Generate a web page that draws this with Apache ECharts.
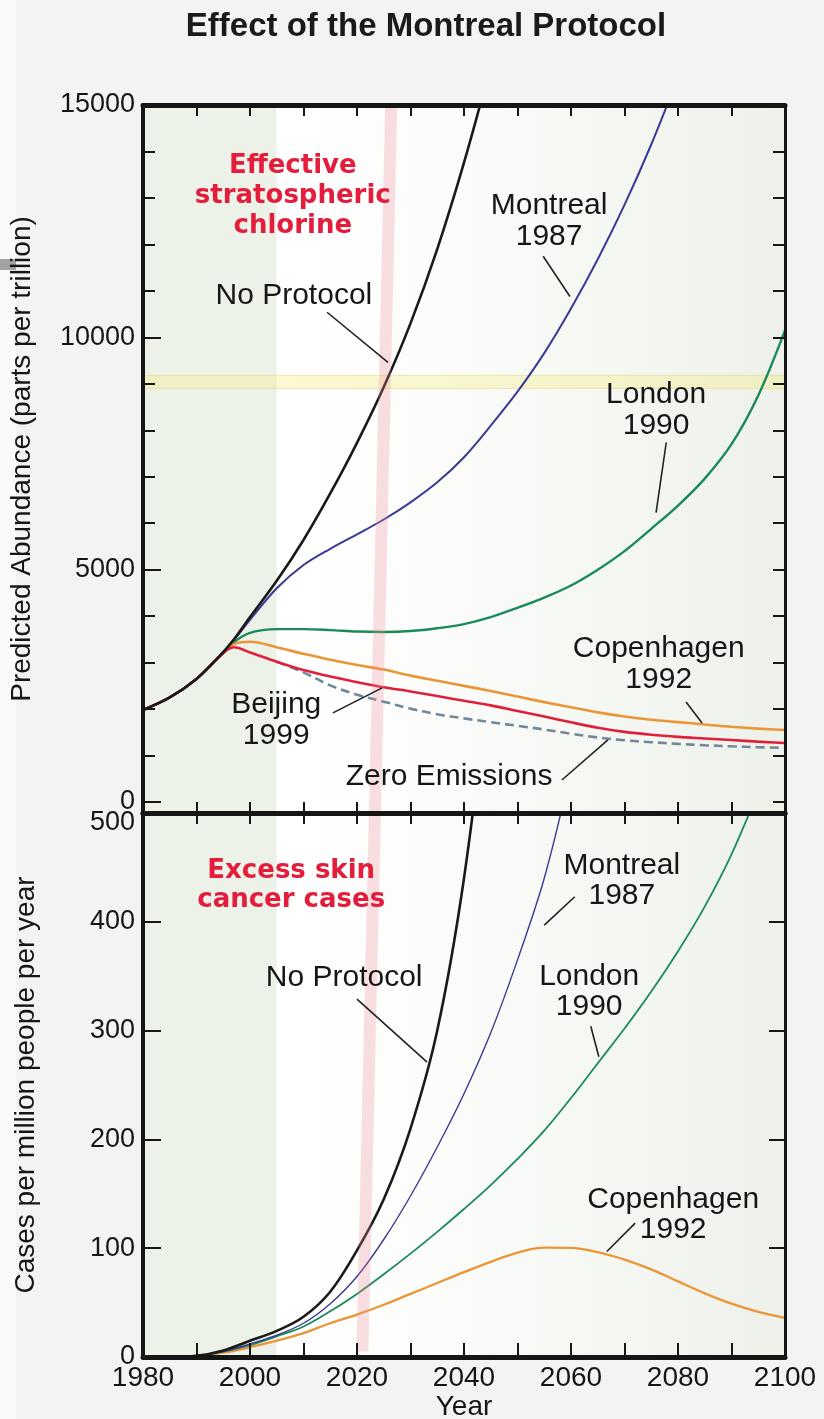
<!DOCTYPE html>
<html>
<head>
<meta charset="utf-8">
<title>Effect of the Montreal Protocol</title>
<script src="https://cdn.jsdelivr.net/npm/echarts@6/dist/echarts.min.js"></script>
<style>
  html, body { margin: 0; padding: 0; background: #f3f3f3; }
  #chart { width: 824px; height: 1419px; }
</style>
</head>
<body>
<div id="chart"></div>
<script>
// ---------- Effective stratospheric chlorine (parts per trillion) ----------
const chlYears = [1980, 1985, 1990, 1994, 1997, 2000, 2005, 2010, 2015, 2020, 2025, 2030, 2035, 2040,
                  2045, 2050, 2055, 2060, 2065, 2070, 2075, 2080, 2085, 2090, 2095, 2100];
const chlNoProtocol = [1980, 2250, 2650, 3100, 3500, 3980, 4760, 5640, 6640, 7730, 8930, 10300, 11900, 13760,
                       15850, null, null, null, null, null, null, null, null, null, null, null];
const chlMontreal = [1980, 2250, 2650, 3100, 3490, 3920, 4600, 5100, 5450, 5760, 6080, 6450, 6880, 7420,
                     8100, 8830, 9660, 10620, 11680, 12850, 14150, 15600, null, null, null, null];
const chlLondon = [1980, 2250, 2650, 3100, 3440, 3640, 3720, 3720, 3700, 3670, 3660, 3680, 3740, 3830,
                   3980, 4180, 4400, 4660, 5000, 5400, 5880, 6380, 6960, 7700, 8750, 10150];
const chlCopenhagen = [1980, 2250, 2650, 3100, 3400, 3450, 3330, 3190, 3060, 2950, 2850, 2720, 2610, 2500,
                       2390, 2270, 2150, 2040, 1930, 1840, 1770, 1720, 1668, 1620, 1580, 1550];
const chlBeijing = [1980, 2250, 2650, 3100, 3330, 3220, 3020, 2840, 2700, 2580, 2470, 2380, 2280, 2180,
                    2080, 1960, 1840, 1715, 1600, 1510, 1448, 1402, 1368, 1334, 1300, 1270];
const chlZeroEmissions = [null, null, null, null, null, null, 3020, 2790, 2510, 2310, 2160, 2010, 1890, 1800,
                          1720, 1640, 1560, 1470, 1390, 1330, 1288, 1252, 1222, 1199, 1180, 1165];

// ---------- Excess skin cancer cases (per million people per year) ----------
const caseYears = [1980, 1985, 1990, 1995, 2000, 2005, 2010, 2015, 2020, 2025, 2030, 2035, 2040,
                   2045, 2050, 2055, 2060, 2065, 2070, 2075, 2080, 2085, 2090, 2095, 2100];
const casesNoProtocol = [0, 0, 1, 6, 15, 24, 37, 60, 98, 145, 210, 300, 440,
                         640, null, null, null, null, null, null, null, null, null, null, null];
const casesMontreal = [0, 0, 1, 5, 12, 20, 31, 49, 74, 108, 148, 193, 242,
                       298, 365, 440, 540, null, null, null, null, null, null, null, null];
const casesLondon = [0, 0, 1, 5, 11, 19, 28, 42, 58, 76, 95, 115, 136,
                     158, 182, 208, 238, 270, 302, 336, 373, 414, 462, 520, null];
const casesCopenhagen = [0, 0, 1, 4, 9, 15, 22, 31, 39, 48, 58, 68, 78,
                         87.5, 96, 100.5, 100.3, 96.3, 89.5, 80.5, 69.5, 58.5, 49, 41.5, 36];

// ---------- Axis ticks ----------
const chlTickValues = [0, 1000, 2000, 3000, 4000, 5000, 6000, 7000, 8000, 9000, 10000,
                       11000, 12000, 13000, 14000, 15000];
const chlLabelValues = [0, 5000, 10000, 15000];
const chlMajorTicks = [0, 5000, 10000];

// ---------- Highlight bands ----------
const chlHighlightBand = [8900, 9180];                      // horizontal band, ppt
const yearMarkerTop = [[2026.4, 15000], [2023.35, -236]];   // slanted marker, upper panel
const yearMarkerBottom = [[2023.35, 500], [2021.0, 5]];     // slanted marker, lower panel

// ---------- Annotations: [year, value, text] and leader lines ----------
const chlNotes = [
  [2008.2, 10904, 'No Protocol'],
  [2055.9, 12500, 'Montreal\n1987'],
  [2075.9, 8426, 'London\n1990'],
  [2076.4, 2974, 'Copenhagen\n1992'],
  [2004.9, 1767, 'Beijing\n1999'],
  [2037.2, 539, 'Zero Emissions']
];
const chlLeaders = [
  [[2014.4, 10540], [2025.8, 9460]],
  [[2054.8, 11745], [2059.8, 10880]],
  [[2077.8, 7737], [2075.9, 6228]],
  [[2081.5, 2155], [2084.5, 1702]],
  [[2015.5, 1918], [2024.7, 2457]],
  [[2058.3, 474], [2066.9, 1336]]
];
const caseNotes = [
  [2017.6, 349, 'No Protocol'],
  [2069.5, 438, 'Montreal\n1987'],
  [2063.4, 336, 'London\n1990'],
  [2079.1, 131, 'Copenhagen\n1992']
];
const caseLeaders = [
  [[2020.0, 329], [2033.1, 271]],
  [[2060.7, 423], [2055.0, 397]],
  [[2063.7, 304], [2065.2, 276]],
  [[2072.0, 123], [2066.7, 97]]
];
const chlPanelTitle = [2008.0, 13040, 'Effective\nstratospheric\nchlorine'];
const casePanelTitle = [2007.7, 433, 'Excess skin\ncancer cases'];

// ---------- Styling ----------
const FONT = '"Liberation Sans", Arial, Helvetica, sans-serif';
const BOLD_FONT = '"DejaVu Sans", "Liberation Sans", sans-serif';
const INK = '#161616';
const TEXT = '#161616';
const RED_TEXT = '#e31d3b';
const C_BLACK = '#1a1a1a';
const C_BLUE = '#3a3a94';
const C_GREEN = '#1b8a5b';
const C_ORANGE = '#ea9637';
const C_RED = '#e0203a';
const C_ZERO = '#71879a';
const AXIS_Z = 10;

function pairs(xs, ys) {
  const out = [];
  xs.forEach((x, i) => { if (ys[i] !== null && ys[i] !== undefined) out.push([x, ys[i]]); });
  return out;
}

function lineAxis(w) {
  return { show: true, onZero: false, lineStyle: { color: INK, width: w } };
}

function xAxisFor(grid, position, extra) {
  return Object.assign({
    type: 'value', gridIndex: grid, position: position, z: AXIS_Z,
    min: 1980, max: 2100, interval: 10,
    axisLine: lineAxis(5),
    axisTick: { show: true, inside: true, length: 11, lineStyle: { color: INK, width: 2 } },
    axisLabel: { show: false },
    splitLine: { show: false }
  }, extra || {});
}

function curve(name, xs, ys, color, width, xi, yi, extra) {
  return Object.assign({
    name: name, type: 'line', xAxisIndex: xi, yAxisIndex: yi,
    data: pairs(xs, ys), showSymbol: false, smooth: 0.35,
    clip: true, silent: true, z: 3,
    lineStyle: { color: color, width: width }
  }, extra || {});
}

function notes(list, xi, yi, style) {
  return {
    type: 'scatter', xAxisIndex: xi, yAxisIndex: yi, symbolSize: 0, silent: true, z: 6,
    itemStyle: { opacity: 1 },
    data: list.map(n => ({ value: [n[0], n[1]], label: { formatter: n[2] } })),
    label: Object.assign({
      show: true, position: 'inside', align: 'center', verticalAlign: 'middle',
      textBorderWidth: 0, textBorderColor: 'transparent', opacity: 1
    }, style)
  };
}

function leaders(list, xi, yi) {
  return {
    type: 'lines', coordinateSystem: 'cartesian2d', xAxisIndex: xi, yAxisIndex: yi,
    silent: true, z: 5, symbol: 'none',
    lineStyle: { color: '#222', width: 1.6, opacity: 1 },
    data: list.map(seg => ({ coords: seg }))
  };
}

function backdrop(xi, yi) {
  return {
    type: 'line', xAxisIndex: xi, yAxisIndex: yi, data: [], silent: true, z: 1,
    markArea: {
      silent: true,
      data: [
        [{ xAxis: 1980, itemStyle: { color: '#ecf2e8' } }, { xAxis: 2005 }],
        [{ xAxis: 2005, itemStyle: { color: {
            type: 'linear', x: 0, y: 0, x2: 1, y2: 0,
            colorStops: [
              { offset: 0, color: '#ffffff' },
              { offset: 0.3, color: '#fcfdfb' },
              { offset: 1, color: '#edf1ea' }
            ] } } }, { xAxis: 2100 }]
      ]
    }
  };
}

const chart = echarts.init(document.getElementById('chart'), null, { renderer: 'canvas' });

const option = {
  backgroundColor: '#f3f3f3',
  animation: false,
  graphic: [
    { type: 'rect', left: 0, top: 0, shape: { width: 16, height: 1419 }, style: { fill: '#fafafa' }, z: 0 },
    { type: 'rect', left: 0, top: 259, shape: { width: 16, height: 11 }, style: { fill: '#a3a3a3' }, z: 1 },
    { type: 'text', x: 426, y: 27, z: 10,
      style: { text: 'Effect of the Montreal Protocol', fill: '#1a1a1a',
               font: 'bold 33px ' + FONT, textAlign: 'center', textVerticalAlign: 'middle',
               align: 'center', verticalAlign: 'middle' } }
  ],
  grid: [
    { left: 143, right: 39, top: 105, bottom: 606, outerBoundsMode: 'none', containLabel: false },
    { left: 143, right: 39, top: 813, bottom: 62, outerBoundsMode: 'none', containLabel: false }
  ],
  xAxis: [
    xAxisFor(0, 'bottom'),
    xAxisFor(0, 'top'),
    xAxisFor(1, 'bottom', {
      axisTick: { show: true, inside: true, length: 14, lineStyle: { color: INK, width: 2 } },
      axisLabel: { show: true, fontSize: 28, color: TEXT, fontFamily: FONT, margin: 7,
                   formatter: v => (v % 20 === 0 ? String(v) : '') },
      name: 'Year', nameLocation: 'middle', nameGap: 36,
      nameTextStyle: { fontSize: 28, color: TEXT, fontFamily: FONT }
    }),
    xAxisFor(1, 'top')
  ],
  yAxis: [
    { // 0: chlorine, left, labels + short ticks
      type: 'value', gridIndex: 0, position: 'left', min: -236, max: 15000, z: AXIS_Z,
      axisLine: lineAxis(4),
      axisTick: { show: true, inside: true, length: 12, customValues: chlTickValues,
                  lineStyle: { color: INK, width: 2 } },
      axisLabel: { show: true, customValues: chlLabelValues, fontSize: 27, color: TEXT,
                   fontFamily: FONT, margin: 8, formatter: v => String(v) },
      splitLine: { show: false },
      name: 'Predicted Abundance (parts per trillion)', nameLocation: 'middle', nameGap: 107,
      nameRotate: 90, nameTextStyle: { fontSize: 28, color: TEXT, fontFamily: FONT }
    },
    { // 1: chlorine, left, long ticks at labelled values
      type: 'value', gridIndex: 0, position: 'left', min: -236, max: 15000, z: AXIS_Z,
      axisLine: { show: false },
      axisTick: { show: true, inside: true, length: 18, customValues: chlMajorTicks,
                  lineStyle: { color: INK, width: 2 } },
      axisLabel: { show: false }, splitLine: { show: false }
    },
    { // 2: chlorine, right frame
      type: 'value', gridIndex: 0, position: 'right', min: -236, max: 15000, z: AXIS_Z,
      axisLine: lineAxis(3),
      axisTick: { show: true, inside: true, length: 12, customValues: chlTickValues,
                  lineStyle: { color: INK, width: 2 } },
      axisLabel: { show: false }, splitLine: { show: false }
    },
    { // 3: cases, left
      type: 'value', gridIndex: 1, position: 'left', min: 0, max: 500, interval: 100, z: AXIS_Z,
      axisLine: lineAxis(4),
      axisTick: { show: true, inside: true, length: 18, lineStyle: { color: INK, width: 2 } },
      axisLabel: {
        show: true, fontSize: 27, color: TEXT, fontFamily: FONT, margin: 8,
        formatter: v => (v === 500 ? '{low|500}' : String(v)),
        rich: { low: { fontSize: 27, color: TEXT, fontFamily: FONT, padding: [20, 0, 0, 0] } }
      },
      splitLine: { show: false },
      name: 'Cases per million people per year', nameLocation: 'middle', nameGap: 103,
      nameRotate: 90, nameTextStyle: { fontSize: 28, color: TEXT, fontFamily: FONT }
    },
    { // 4: cases, right frame
      type: 'value', gridIndex: 1, position: 'right', min: 0, max: 500, interval: 100, z: AXIS_Z,
      axisLine: lineAxis(3),
      axisTick: { show: true, inside: true, length: 16, lineStyle: { color: INK, width: 2 } },
      axisLabel: { show: false }, splitLine: { show: false }
    }
  ],
  series: [
    backdrop(0, 0),
    backdrop(2, 3),

    // upper panel: chlorine scenarios
    curve('Zero Emissions', chlYears, chlZeroEmissions, C_ZERO, 2.6, 0, 0,
          { lineStyle: { color: C_ZERO, width: 2.6, type: [9, 5] } }),
    curve('London 1990', chlYears, chlLondon, C_GREEN, 2.4, 0, 0),
    curve('Copenhagen 1992', chlYears, chlCopenhagen, C_ORANGE, 2.6, 0, 0),
    curve('Beijing 1999', chlYears, chlBeijing, C_RED, 2.6, 0, 0),
    curve('Montreal 1987', chlYears, chlMontreal, C_BLUE, 2.0, 0, 0),
    curve('No Protocol', chlYears, chlNoProtocol, C_BLACK, 2.6, 0, 0),

    // lower panel: skin cancer cases
    curve('Copenhagen 1992', caseYears, casesCopenhagen, C_ORANGE, 2.3, 2, 3),
    curve('London 1990', caseYears, casesLondon, C_GREEN, 1.8, 2, 3),
    curve('Montreal 1987', caseYears, casesMontreal, C_BLUE, 1.4, 2, 3),
    curve('No Protocol', caseYears, casesNoProtocol, C_BLACK, 2.6, 2, 3),

    // horizontal highlight band in the chlorine panel
    {
      type: 'line', xAxisIndex: 0, yAxisIndex: 0, data: [], silent: true, z: 4,
      markArea: {
        silent: true,
        itemStyle: { color: 'rgba(244, 236, 130, 0.36)', borderColor: 'rgba(225, 215, 110, 0.5)', borderWidth: 1 },
        data: [[{ yAxis: chlHighlightBand[0] }, { yAxis: chlHighlightBand[1] }]]
      }
    },
    // slanted year marker across both panels
    {
      type: 'lines', coordinateSystem: 'cartesian2d', xAxisIndex: 0, yAxisIndex: 0,
      silent: true, z: 4, symbol: 'none',
      lineStyle: { color: 'rgba(236, 140, 152, 0.28)', width: 12, opacity: 1 },
      data: [{ coords: yearMarkerTop }]
    },
    {
      type: 'lines', coordinateSystem: 'cartesian2d', xAxisIndex: 2, yAxisIndex: 3,
      silent: true, z: 4, symbol: 'none',
      lineStyle: { color: 'rgba(236, 140, 152, 0.28)', width: 12, opacity: 1 },
      data: [{ coords: yearMarkerBottom }]
    },

    // annotations
    leaders(chlLeaders, 0, 0),
    leaders(caseLeaders, 2, 3),
    notes(chlNotes, 0, 0, { fontSize: 30, lineHeight: 31, color: TEXT, fontFamily: FONT }),
    notes(caseNotes, 2, 3, { fontSize: 30, lineHeight: 30, color: TEXT, fontFamily: FONT }),
    notes([chlPanelTitle], 0, 0, { fontSize: 26, lineHeight: 30, color: RED_TEXT,
                                    fontFamily: BOLD_FONT, fontWeight: 'bold' }),
    notes([casePanelTitle], 2, 3, { fontSize: 26, lineHeight: 29, color: RED_TEXT,
                                     fontFamily: BOLD_FONT, fontWeight: 'bold' })
  ]
};

chart.setOption(option);
</script>
</body>
</html>
